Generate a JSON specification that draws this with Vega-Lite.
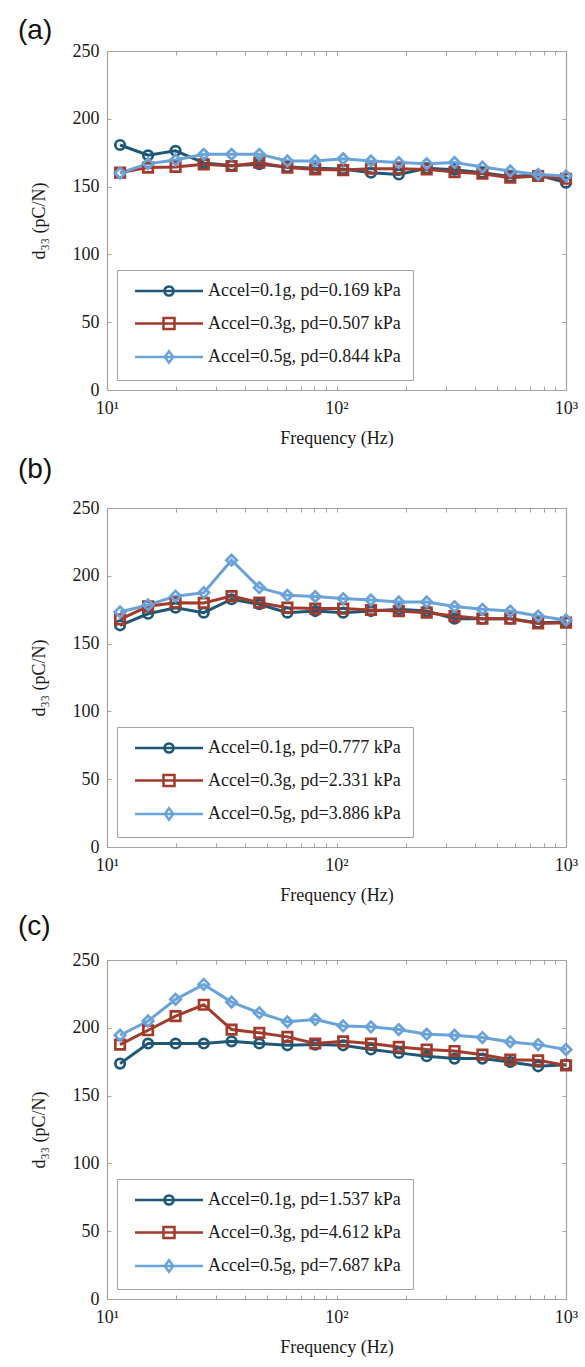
{
  "$schema": "https://vega.github.io/schema/vega-lite/v6.json",
  "background": "white",
  "padding": {"left": 18, "top": 17, "right": 5, "bottom": 5},
  "spacing": 9,
  "datasets": {
    "a": [
      {"s":"0.1g","f":11.4,"d":180.7},{"s":"0.1g","f":15.1,"d":173.1},{"s":"0.1g","f":19.9,"d":176.4},{"s":"0.1g","f":26.4,"d":167.5},{"s":"0.1g","f":34.9,"d":165.5},{"s":"0.1g","f":46.1,"d":166.5},{"s":"0.1g","f":61.1,"d":164.5},{"s":"0.1g","f":80.8,"d":163.5},{"s":"0.1g","f":106.9,"d":163.0},{"s":"0.1g","f":141.3,"d":160.3},{"s":"0.1g","f":186.8,"d":159.0},{"s":"0.1g","f":247.2,"d":163.5},{"s":"0.1g","f":326.8,"d":162.5},{"s":"0.1g","f":432.3,"d":160.3},{"s":"0.1g","f":571.6,"d":157.5},{"s":"0.1g","f":756.1,"d":158.5},{"s":"0.1g","f":1000,"d":152.9},
      {"s":"0.3g","f":11.4,"d":160.3},{"s":"0.3g","f":15.1,"d":164.0},{"s":"0.3g","f":19.9,"d":164.5},{"s":"0.3g","f":26.4,"d":166.4},{"s":"0.3g","f":34.9,"d":165.2},{"s":"0.3g","f":46.1,"d":167.7},{"s":"0.3g","f":61.1,"d":164.0},{"s":"0.3g","f":80.8,"d":162.7},{"s":"0.3g","f":106.9,"d":162.2},{"s":"0.3g","f":141.3,"d":163.2},{"s":"0.3g","f":186.8,"d":163.2},{"s":"0.3g","f":247.2,"d":162.7},{"s":"0.3g","f":326.8,"d":160.7},{"s":"0.3g","f":432.3,"d":159.5},{"s":"0.3g","f":571.6,"d":156.6},{"s":"0.3g","f":756.1,"d":157.8},{"s":"0.3g","f":1000,"d":155.8},
      {"s":"0.5g","f":11.4,"d":160.0},{"s":"0.5g","f":15.1,"d":166.9},{"s":"0.5g","f":19.9,"d":169.6},{"s":"0.5g","f":26.4,"d":173.8},{"s":"0.5g","f":34.9,"d":173.8},{"s":"0.5g","f":46.1,"d":173.8},{"s":"0.5g","f":61.1,"d":168.9},{"s":"0.5g","f":80.8,"d":168.9},{"s":"0.5g","f":106.9,"d":170.6},{"s":"0.5g","f":141.3,"d":168.9},{"s":"0.5g","f":186.8,"d":167.7},{"s":"0.5g","f":247.2,"d":166.9},{"s":"0.5g","f":326.8,"d":167.8},{"s":"0.5g","f":432.3,"d":164.4},{"s":"0.5g","f":571.6,"d":161.5},{"s":"0.5g","f":756.1,"d":159.0},{"s":"0.5g","f":1000,"d":157.8}
    ],
    "b": [
      {"s":"0.1g","f":11.4,"d":163.5},{"s":"0.1g","f":15.1,"d":172.0},{"s":"0.1g","f":19.9,"d":176.5},{"s":"0.1g","f":26.4,"d":172.8},{"s":"0.1g","f":34.9,"d":182.7},{"s":"0.1g","f":46.1,"d":179.0},{"s":"0.1g","f":61.1,"d":172.8},{"s":"0.1g","f":80.8,"d":174.0},{"s":"0.1g","f":106.9,"d":172.8},{"s":"0.1g","f":141.3,"d":174.0},{"s":"0.1g","f":186.8,"d":175.3},{"s":"0.1g","f":247.2,"d":174.0},{"s":"0.1g","f":326.8,"d":168.4},{"s":"0.1g","f":432.3,"d":168.4},{"s":"0.1g","f":571.6,"d":168.4},{"s":"0.1g","f":756.1,"d":165.4},{"s":"0.1g","f":1000,"d":165.9},
      {"s":"0.3g","f":11.4,"d":167.9},{"s":"0.3g","f":15.1,"d":177.5},{"s":"0.3g","f":19.9,"d":180.2},{"s":"0.3g","f":26.4,"d":180.0},{"s":"0.3g","f":34.9,"d":185.0},{"s":"0.3g","f":46.1,"d":180.2},{"s":"0.3g","f":61.1,"d":176.5},{"s":"0.3g","f":80.8,"d":175.8},{"s":"0.3g","f":106.9,"d":175.8},{"s":"0.3g","f":141.3,"d":174.8},{"s":"0.3g","f":186.8,"d":174.0},{"s":"0.3g","f":247.2,"d":172.8},{"s":"0.3g","f":326.8,"d":170.3},{"s":"0.3g","f":432.3,"d":168.4},{"s":"0.3g","f":571.6,"d":168.4},{"s":"0.3g","f":756.1,"d":164.9},{"s":"0.3g","f":1000,"d":165.4},
      {"s":"0.5g","f":11.4,"d":173.3},{"s":"0.5g","f":15.1,"d":178.5},{"s":"0.5g","f":19.9,"d":185.0},{"s":"0.5g","f":26.4,"d":187.6},{"s":"0.5g","f":34.9,"d":211.5},{"s":"0.5g","f":46.1,"d":191.3},{"s":"0.5g","f":61.1,"d":185.6},{"s":"0.5g","f":80.8,"d":184.7},{"s":"0.5g","f":106.9,"d":183.2},{"s":"0.5g","f":141.3,"d":182.2},{"s":"0.5g","f":186.8,"d":180.7},{"s":"0.5g","f":247.2,"d":180.7},{"s":"0.5g","f":326.8,"d":177.3},{"s":"0.5g","f":432.3,"d":175.3},{"s":"0.5g","f":571.6,"d":174.0},{"s":"0.5g","f":756.1,"d":170.3},{"s":"0.5g","f":1000,"d":167.4}
    ],
    "c": [
      {"s":"0.1g","f":11.4,"d":173.6},{"s":"0.1g","f":15.1,"d":188.4},{"s":"0.1g","f":19.9,"d":188.4},{"s":"0.1g","f":26.4,"d":188.4},{"s":"0.1g","f":34.9,"d":190.0},{"s":"0.1g","f":46.1,"d":188.4},{"s":"0.1g","f":61.1,"d":187.1},{"s":"0.1g","f":80.8,"d":187.6},{"s":"0.1g","f":106.9,"d":187.1},{"s":"0.1g","f":141.3,"d":184.0},{"s":"0.1g","f":186.8,"d":181.5},{"s":"0.1g","f":247.2,"d":179.0},{"s":"0.1g","f":326.8,"d":177.3},{"s":"0.1g","f":432.3,"d":177.3},{"s":"0.1g","f":571.6,"d":174.8},{"s":"0.1g","f":756.1,"d":171.6},{"s":"0.1g","f":1000,"d":172.8},
      {"s":"0.3g","f":11.4,"d":187.6},{"s":"0.3g","f":15.1,"d":198.2},{"s":"0.3g","f":19.9,"d":208.6},{"s":"0.3g","f":26.4,"d":217.0},{"s":"0.3g","f":34.9,"d":198.7},{"s":"0.3g","f":46.1,"d":196.3},{"s":"0.3g","f":61.1,"d":193.3},{"s":"0.3g","f":80.8,"d":188.4},{"s":"0.3g","f":106.9,"d":190.0},{"s":"0.3g","f":141.3,"d":188.4},{"s":"0.3g","f":186.8,"d":185.9},{"s":"0.3g","f":247.2,"d":184.0},{"s":"0.3g","f":326.8,"d":182.9},{"s":"0.3g","f":432.3,"d":180.2},{"s":"0.3g","f":571.6,"d":176.5},{"s":"0.3g","f":756.1,"d":176.0},{"s":"0.3g","f":1000,"d":172.3},
      {"s":"0.5g","f":11.4,"d":194.5},{"s":"0.5g","f":15.1,"d":205.0},{"s":"0.5g","f":19.9,"d":221.0},{"s":"0.5g","f":26.4,"d":232.0},{"s":"0.5g","f":34.9,"d":219.0},{"s":"0.5g","f":46.1,"d":211.0},{"s":"0.5g","f":61.1,"d":204.4},{"s":"0.5g","f":80.8,"d":206.1},{"s":"0.5g","f":106.9,"d":201.4},{"s":"0.5g","f":141.3,"d":200.7},{"s":"0.5g","f":186.8,"d":198.7},{"s":"0.5g","f":247.2,"d":195.3},{"s":"0.5g","f":326.8,"d":194.5},{"s":"0.5g","f":432.3,"d":192.8},{"s":"0.5g","f":571.6,"d":189.6},{"s":"0.5g","f":756.1,"d":187.6},{"s":"0.5g","f":1000,"d":184.0}
    ]
  },
  "config": {
    "font": "Liberation Serif",
    "view": {"stroke": null},
    "axis": {"grid": false, "domainColor": "#a8a29e", "domainWidth": 1.2, "tickColor": "#a8a29e", "tickWidth": 1, "tickSize": -4, "labelFont": "Liberation Serif", "labelFontSize": 18, "labelColor": "#1a1a1a", "titleFont": "Liberation Serif", "titleFontSize": 18, "titleFontWeight": "normal", "titleColor": "#1a1a1a"},
    "axisX": {"labelPadding": 13, "titlePadding": 12},
    "axisY": {"labelPadding": 12, "titlePadding": 24},
    "legend": {"orient": "bottom-left", "offset": 10, "padding": 12, "strokeColor": "#a8a29e", "fillColor": "white", "labelFont": "Liberation Serif", "labelFontSize": 18, "labelColor": "#1a1a1a", "labelLimit": 400, "symbolSize": 100, "symbolStrokeWidth": 2.5, "symbolOffset": 31, "labelOffset": 30, "rowPadding": 11.5},
    "title": {"font": "Liberation Sans", "fontSize": 28, "fontWeight": "normal", "anchor": "start", "frame": "group", "color": "#111111", "baseline": "alphabetic"}
  },
  "resolve": {"scale": {"color": "independent"}},
  "vconcat": [
    {
      "data": {"name": "a"},
      "width": 459, "height": 339,
      "title": {"text": "(a)", "dx": -89, "offset": -3},
      "encoding": {
        "x": {"field": "f", "type": "quantitative", "scale": {"type": "log", "domain": [10, 1000]}},
        "y": {"field": "d", "type": "quantitative", "scale": {"domain": [0, 250]}},
        "color": {"field": "s", "type": "nominal", "scale": {"domain": ["0.1g", "0.3g", "0.5g"], "range": ["#1f5876", "#a23b2b", "#6aa2da"]},
          "legend": {"title": null, "labelExpr": "datum.label=='0.1g' ? 'Accel=0.1g, pd=0.169 kPa' : datum.label=='0.3g' ? 'Accel=0.3g, pd=0.507 kPa' : 'Accel=0.5g, pd=0.844 kPa'",
            "encode": {"symbols": {"enter": {"shape": {"signal": "datum.value=='0.1g' ? 'M-6.8,0L6.8,0M0.92,0A0.92,0.92,0,1,1,-0.92,0A0.92,0.92,0,1,1,0.92,0Z' : datum.value=='0.3g' ? 'M-6.8,0L6.8,0M-1.1,-1.1L1.1,-1.1L1.1,1.1L-1.1,1.1Z' : 'M-6.8,0L6.8,0M0,-1.15L0.85,0L0,1.15L-0.85,0Z'"}}, "update": {"shape": {"signal": "datum.value=='0.1g' ? 'M-6.8,0L6.8,0M0.92,0A0.92,0.92,0,1,1,-0.92,0A0.92,0.92,0,1,1,0.92,0Z' : datum.value=='0.3g' ? 'M-6.8,0L6.8,0M-1.1,-1.1L1.1,-1.1L1.1,1.1L-1.1,1.1Z' : 'M-6.8,0L6.8,0M0,-1.15L0.85,0L0,1.15L-0.85,0Z'"}, "fill": {"value": "transparent"}, "strokeWidth": {"value": 2.5}}}}}}
      },
      "layer": [
        {"mark": {"type": "line", "strokeWidth": 3},
         "encoding": {
           "x": {"field": "f", "type": "quantitative", "axis": {"orient": "top", "labels": false, "title": null, "values": [10,20,30,40,50,60,70,80,90,100,200,300,400,500,600,700,800,900,1000]}},
           "y": {"field": "d", "type": "quantitative", "axis": {"orient": "right", "labels": false, "title": null, "values": [0,50,100,150,200,250]}}
         }},
        {"transform": [{"filter": "datum.s=='0.1g'"}],
         "mark": {"type": "point", "shape": "circle", "filled": false, "strokeWidth": 2.7, "size": 90, "opacity": 1},
         "encoding": {
           "x": {"field": "f", "type": "quantitative", "axis": {"orient": "bottom", "title": "Frequency (Hz)", "values": [10,20,30,40,50,60,70,80,90,100,200,300,400,500,600,700,800,900,1000], "labelExpr": "datum.value==10 ? '10¹' : datum.value==100 ? '10²' : datum.value==1000 ? '10³' : ''", "labelOverlap": false, "labelFlush": false}},
           "y": {"field": "d", "type": "quantitative", "axis": {"orient": "left", "title": "d₃₃ (pC/N)", "values": [0,50,100,150,200,250]}}
         }},
        {"transform": [{"filter": "datum.s=='0.3g'"}],
         "mark": {"type": "point", "shape": "square", "filled": false, "strokeWidth": 2.7, "size": 90, "opacity": 1},
         "encoding": {"x": {"field": "f", "type": "quantitative", "axis": null}, "y": {"field": "d", "type": "quantitative", "axis": null}}},
        {"transform": [{"filter": "datum.s=='0.5g'"}],
         "mark": {"type": "point", "shape": "diamond", "filled": false, "strokeWidth": 2.7, "size": 110, "opacity": 1},
         "encoding": {"x": {"field": "f", "type": "quantitative", "axis": null}, "y": {"field": "d", "type": "quantitative", "axis": null}}}
      ],
      "resolve": {"axis": {"x": "independent", "y": "independent"}}
    },
    {
      "data": {"name": "b"},
      "width": 459, "height": 339,
      "title": {"text": "(b)", "dx": -89, "offset": 15},
      "encoding": {
        "x": {"field": "f", "type": "quantitative", "scale": {"type": "log", "domain": [10, 1000]}},
        "y": {"field": "d", "type": "quantitative", "scale": {"domain": [0, 250]}},
        "color": {"field": "s", "type": "nominal", "scale": {"domain": ["0.1g", "0.3g", "0.5g"], "range": ["#1f5876", "#a23b2b", "#6aa2da"]},
          "legend": {"title": null, "labelExpr": "datum.label=='0.1g' ? 'Accel=0.1g, pd=0.777 kPa' : datum.label=='0.3g' ? 'Accel=0.3g, pd=2.331 kPa' : 'Accel=0.5g, pd=3.886 kPa'",
            "encode": {"symbols": {"enter": {"shape": {"signal": "datum.value=='0.1g' ? 'M-6.8,0L6.8,0M0.92,0A0.92,0.92,0,1,1,-0.92,0A0.92,0.92,0,1,1,0.92,0Z' : datum.value=='0.3g' ? 'M-6.8,0L6.8,0M-1.1,-1.1L1.1,-1.1L1.1,1.1L-1.1,1.1Z' : 'M-6.8,0L6.8,0M0,-1.15L0.85,0L0,1.15L-0.85,0Z'"}}, "update": {"shape": {"signal": "datum.value=='0.1g' ? 'M-6.8,0L6.8,0M0.92,0A0.92,0.92,0,1,1,-0.92,0A0.92,0.92,0,1,1,0.92,0Z' : datum.value=='0.3g' ? 'M-6.8,0L6.8,0M-1.1,-1.1L1.1,-1.1L1.1,1.1L-1.1,1.1Z' : 'M-6.8,0L6.8,0M0,-1.15L0.85,0L0,1.15L-0.85,0Z'"}, "fill": {"value": "transparent"}, "strokeWidth": {"value": 2.5}}}}}}
      },
      "layer": [
        {"mark": {"type": "line", "strokeWidth": 3},
         "encoding": {
           "x": {"field": "f", "type": "quantitative", "axis": {"orient": "top", "labels": false, "title": null, "values": [10,20,30,40,50,60,70,80,90,100,200,300,400,500,600,700,800,900,1000]}},
           "y": {"field": "d", "type": "quantitative", "axis": {"orient": "right", "labels": false, "title": null, "values": [0,50,100,150,200,250]}}
         }},
        {"transform": [{"filter": "datum.s=='0.1g'"}],
         "mark": {"type": "point", "shape": "circle", "filled": false, "strokeWidth": 2.7, "size": 90, "opacity": 1},
         "encoding": {
           "x": {"field": "f", "type": "quantitative", "axis": {"orient": "bottom", "title": "Frequency (Hz)", "values": [10,20,30,40,50,60,70,80,90,100,200,300,400,500,600,700,800,900,1000], "labelExpr": "datum.value==10 ? '10¹' : datum.value==100 ? '10²' : datum.value==1000 ? '10³' : ''", "labelOverlap": false, "labelFlush": false}},
           "y": {"field": "d", "type": "quantitative", "axis": {"orient": "left", "title": "d₃₃ (pC/N)", "values": [0,50,100,150,200,250]}}
         }},
        {"transform": [{"filter": "datum.s=='0.3g'"}],
         "mark": {"type": "point", "shape": "square", "filled": false, "strokeWidth": 2.7, "size": 90, "opacity": 1},
         "encoding": {"x": {"field": "f", "type": "quantitative", "axis": null}, "y": {"field": "d", "type": "quantitative", "axis": null}}},
        {"transform": [{"filter": "datum.s=='0.5g'"}],
         "mark": {"type": "point", "shape": "diamond", "filled": false, "strokeWidth": 2.7, "size": 110, "opacity": 1},
         "encoding": {"x": {"field": "f", "type": "quantitative", "axis": null}, "y": {"field": "d", "type": "quantitative", "axis": null}}}
      ],
      "resolve": {"axis": {"x": "independent", "y": "independent"}}
    },
    {
      "data": {"name": "c"},
      "width": 459, "height": 339,
      "title": {"text": "(c)", "dx": -89, "offset": 10},
      "encoding": {
        "x": {"field": "f", "type": "quantitative", "scale": {"type": "log", "domain": [10, 1000]}},
        "y": {"field": "d", "type": "quantitative", "scale": {"domain": [0, 250]}},
        "color": {"field": "s", "type": "nominal", "scale": {"domain": ["0.1g", "0.3g", "0.5g"], "range": ["#1f5876", "#a23b2b", "#6aa2da"]},
          "legend": {"title": null, "labelExpr": "datum.label=='0.1g' ? 'Accel=0.1g, pd=1.537 kPa' : datum.label=='0.3g' ? 'Accel=0.3g, pd=4.612 kPa' : 'Accel=0.5g, pd=7.687 kPa'",
            "encode": {"symbols": {"enter": {"shape": {"signal": "datum.value=='0.1g' ? 'M-6.8,0L6.8,0M0.92,0A0.92,0.92,0,1,1,-0.92,0A0.92,0.92,0,1,1,0.92,0Z' : datum.value=='0.3g' ? 'M-6.8,0L6.8,0M-1.1,-1.1L1.1,-1.1L1.1,1.1L-1.1,1.1Z' : 'M-6.8,0L6.8,0M0,-1.15L0.85,0L0,1.15L-0.85,0Z'"}}, "update": {"shape": {"signal": "datum.value=='0.1g' ? 'M-6.8,0L6.8,0M0.92,0A0.92,0.92,0,1,1,-0.92,0A0.92,0.92,0,1,1,0.92,0Z' : datum.value=='0.3g' ? 'M-6.8,0L6.8,0M-1.1,-1.1L1.1,-1.1L1.1,1.1L-1.1,1.1Z' : 'M-6.8,0L6.8,0M0,-1.15L0.85,0L0,1.15L-0.85,0Z'"}, "fill": {"value": "transparent"}, "strokeWidth": {"value": 2.5}}}}}}
      },
      "layer": [
        {"mark": {"type": "line", "strokeWidth": 3},
         "encoding": {
           "x": {"field": "f", "type": "quantitative", "axis": {"orient": "top", "labels": false, "title": null, "values": [10,20,30,40,50,60,70,80,90,100,200,300,400,500,600,700,800,900,1000]}},
           "y": {"field": "d", "type": "quantitative", "axis": {"orient": "right", "labels": false, "title": null, "values": [0,50,100,150,200,250]}}
         }},
        {"transform": [{"filter": "datum.s=='0.1g'"}],
         "mark": {"type": "point", "shape": "circle", "filled": false, "strokeWidth": 2.7, "size": 90, "opacity": 1},
         "encoding": {
           "x": {"field": "f", "type": "quantitative", "axis": {"orient": "bottom", "title": "Frequency (Hz)", "values": [10,20,30,40,50,60,70,80,90,100,200,300,400,500,600,700,800,900,1000], "labelExpr": "datum.value==10 ? '10¹' : datum.value==100 ? '10²' : datum.value==1000 ? '10³' : ''", "labelOverlap": false, "labelFlush": false}},
           "y": {"field": "d", "type": "quantitative", "axis": {"orient": "left", "title": "d₃₃ (pC/N)", "values": [0,50,100,150,200,250]}}
         }},
        {"transform": [{"filter": "datum.s=='0.3g'"}],
         "mark": {"type": "point", "shape": "square", "filled": false, "strokeWidth": 2.7, "size": 90, "opacity": 1},
         "encoding": {"x": {"field": "f", "type": "quantitative", "axis": null}, "y": {"field": "d", "type": "quantitative", "axis": null}}},
        {"transform": [{"filter": "datum.s=='0.5g'"}],
         "mark": {"type": "point", "shape": "diamond", "filled": false, "strokeWidth": 2.7, "size": 110, "opacity": 1},
         "encoding": {"x": {"field": "f", "type": "quantitative", "axis": null}, "y": {"field": "d", "type": "quantitative", "axis": null}}}
      ],
      "resolve": {"axis": {"x": "independent", "y": "independent"}}
    }
  ]
}
